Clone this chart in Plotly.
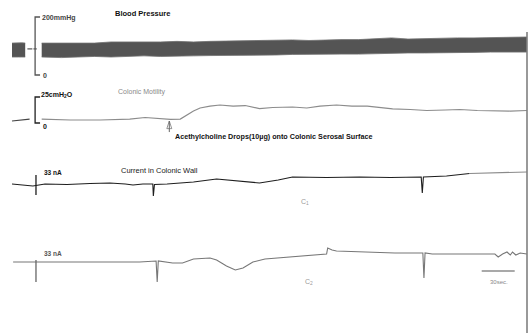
import plotly.graph_objects as go

W, H = 531, 333

# ---------------------------------------------------------------
# Recording data (time in seconds from the start of the strip)
# ---------------------------------------------------------------

# Blood pressure (mmHg): envelope of the pulsatile band
bp_pre_t = [0, 3, 6, 9, 12]
bp_pre_upper = [110, 111, 110, 111, 110]
bp_pre_lower = [62, 61, 62, 62, 62]

bp_t = [27, 45, 60, 75, 90, 105, 120, 135, 150, 165, 180, 195, 210, 225, 240,
        255, 270, 285, 300, 315, 330, 345, 360, 375, 390, 405, 420, 435, 450, 468]
bp_upper = [110, 110, 112, 110, 114, 114, 112, 114, 116, 114, 116, 117, 117, 117, 119,
            121, 119, 121, 122, 122, 124, 128, 124, 126, 126, 128, 128, 129, 129, 131]
bp_lower = [62, 60, 62, 64, 62, 64, 66, 64, 66, 66, 67, 67, 69, 69, 69,
            71, 72, 71, 72, 72, 74, 74, 76, 76, 76, 78, 78, 79, 79, 79]
bp_mean_marker = 90

# Colonic motility (cmH2O)
mot_pre_t = [0, 8, 16]
mot_pre = [1.9, 2.9, 3.8]
mot_t = [27, 53, 80, 107, 121, 135, 144, 153, 159, 165, 171, 180, 189, 201, 212,
         225, 237, 255, 268, 280, 295, 309, 323, 335, 346, 362, 377, 394, 407, 423,
         437, 453, 468]
mot = [3.8, 2.9, 2.9, 3.8, 5.3, 3.8, 3.4, 3.8, 7.7, 11.5, 14.4, 16.3, 17.3, 16.3, 16.8,
       13.9, 14.9, 15.4, 14.4, 16.3, 17.3, 16.3, 16.3, 14.9, 13.5, 13.0, 12.0, 12.5, 13.0, 12.0,
       11.5, 11.5, 12.0]

# Acetylcholine application time (s)
ach_t = 143

# Current in colonic wall, electrode C1 (nA, relative)
c1_t = [0, 9, 19, 30, 50, 71, 89, 103, 110, 119, 128, 128.5, 129.5, 141, 165,
        186, 207, 225, 242, 255, 286, 316, 344, 372, 373, 374, 395, 416, 444, 468]
c1 = [18.2, 16.5, 14.9, 18.2, 17.3, 19.0, 19.8, 18.2, 16.5, 18.2, 18.2, -1.7, 17.3, 18.2, 21.5,
      26.4, 23.1, 19.8, 24.8, 29.7, 28.9, 29.7, 28.9, 29.7, 3.3, 29.7, 31.4, 35.5, 36.3, 38.0]

# Current in colonic wall, electrode C2 (nA, relative)
c2_t = [1, 22, 62, 98, 116, 131, 132, 133, 146, 155, 165, 180, 186, 195, 203,
        210, 219, 230, 260, 286, 287, 291, 295, 321, 348, 373.5, 374.5, 375.5, 382, 412,
        439, 442, 446, 450, 453, 455, 458, 462, 468]
c2 = [30, 30, 30, 29.3, 30, 31.5, 0, 31.5, 28.5, 28.5, 34.5, 36, 33, 24, 18,
      21, 30, 34.5, 39, 42, 51, 48, 46.5, 45, 43.5, 43.5, 6, 43.5, 42, 42,
      42, 37.5, 42, 45, 40.5, 45, 40.5, 43.5, 42]

# Calibrations
bp_cal = [0, 200]        # mmHg
mot_cal = [0, 25]        # cmH2O
cur_cal = [0, 33]        # nA
time_bar = 30            # s

# ---------------------------------------------------------------
# Layout helpers
# ---------------------------------------------------------------
PX_PER_S = 1.1
T0_PX = 12
t_cal = 21.0             # time position of the calibration brackets
t_bar = 427.0            # start of the time scale bar
t_fade = 416             # the C1 pen runs lighter from here on


def y_axis(v_a, py_a, v_b, py_b, top_px, bot_px):
    """Axis in physical units: value v_a sits at pixel row py_a, v_b at py_b."""
    k = (py_a - py_b) / (v_b - v_a)
    hi = v_b + (py_b - top_px) / k
    lo = v_a - (bot_px - py_a) / k
    return dict(domain=[1 - bot_px / H, 1 - top_px / H], range=[lo, hi],
                visible=False, anchor="x", fixedrange=True)


def px(x):
    return x / W


def py(y):
    return 1 - y / H


FONT = "Liberation Sans, Arial, sans-serif"

fig = go.Figure()

# ---- Blood pressure band
for tt, up, lo in [(bp_pre_t, bp_pre_upper, bp_pre_lower), (bp_t, bp_upper, bp_lower)]:
    fig.add_trace(go.Scatter(x=tt, y=up, yaxis="y", mode="lines",
                             line=dict(color="#707070", width=0.8), hoverinfo="skip"))
    fig.add_trace(go.Scatter(x=tt, y=lo, yaxis="y", mode="lines", fill="tonexty",
                             fillcolor="#545454",
                             line=dict(color="#707070", width=0.8), hoverinfo="skip"))
fig.add_trace(go.Scatter(x=[14, 18.5], y=[bp_mean_marker] * 2, yaxis="y", mode="lines",
                         line=dict(color="#555", width=1.2)))
fig.add_trace(go.Scatter(x=[19.5, 22.5], y=[bp_mean_marker] * 2, yaxis="y", mode="lines",
                         line=dict(color="#555", width=1.2)))
fig.add_trace(go.Scatter(x=[t_cal + 4.5, t_cal, t_cal, t_cal + 4.5],
                         y=[bp_cal[1], bp_cal[1], bp_cal[0], bp_cal[0]], yaxis="y",
                         mode="lines", line=dict(color="#555", width=1.3)))

# ---- Colonic motility
fig.add_trace(go.Scatter(x=mot_pre_t, y=mot_pre, yaxis="y2", mode="lines",
                         line=dict(color="#444", width=1.2)))
fig.add_trace(go.Scatter(x=mot_t, y=mot, yaxis="y2", mode="lines",
                         line=dict(color="#8c8c8c", width=1.2)))
fig.add_trace(go.Scatter(x=[t_cal + 4.5, t_cal, t_cal, t_cal + 4.5],
                         y=[mot_cal[1], mot_cal[1], mot_cal[0], mot_cal[0]], yaxis="y2",
                         mode="lines", line=dict(color="#222", width=1.3)))

# arrow marking the acetylcholine application (pointing up to the trace)
fig.add_trace(go.Scatter(x=[ach_t, ach_t], y=[-8.7, 1.9], yaxis="y2", mode="lines+markers",
                         line=dict(color="#666", width=1),
                         marker=dict(symbol="arrow-open", angleref="previous", size=[0, 8],
                                     color="#666", line=dict(color="#666", width=1))))

# ---- Current C1
split = next(i for i, t in enumerate(c1_t) if t >= t_fade)
fig.add_trace(go.Scatter(x=c1_t[:split + 1], y=c1[:split + 1], yaxis="y3", mode="lines",
                         line=dict(color="#1e1e1e", width=1.1)))
fig.add_trace(go.Scatter(x=c1_t[split:], y=c1[split:], yaxis="y3", mode="lines",
                         line=dict(color="#8a8a8a", width=1.1)))
fig.add_trace(go.Scatter(x=[t_cal + 0.8] * 2, y=cur_cal, yaxis="y3", mode="lines",
                         line=dict(color="#1e1e1e", width=1.3)))

# ---- Current C2
fig.add_trace(go.Scatter(x=c2_t, y=c2, yaxis="y4", mode="lines",
                         line=dict(color="#777", width=1.1)))
fig.add_trace(go.Scatter(x=[t_cal + 0.8] * 2, y=cur_cal, yaxis="y4", mode="lines",
                         line=dict(color="#666", width=1.3)))

annotations = [
    dict(text="<b>Blood Pressure</b>", x=px(142), y=py(13), size=7.5, color="#111"),
    dict(text="<b>200mmHg</b>", x=px(40), y=py(18), size=7, color="#444", xanchor="left"),
    dict(text="<b>0</b>", x=px(41), y=py(76), size=7, color="#444", xanchor="left"),
    dict(text="Colonic Motility", x=px(142), y=py(92), size=7, color="#8a8a8a"),
    dict(text="<b>25cmH<sub>2</sub>O</b>", x=px(39), y=py(95), size=7, color="#111", xanchor="left"),
    dict(text="<b>0</b>", x=px(41), y=py(126), size=7, color="#111", xanchor="left"),
    dict(text="<b>Acethylcholine Drops(10µg) onto Colonic Serosal Surface</b>",
         x=px(173), y=py(137), size=7.2, color="#111", xanchor="left"),
    dict(text="Current in Colonic Wall", x=px(159), y=py(170), size=7.5, color="#1a1a1a"),
    dict(text="<b>33 nA</b>", x=px(42), y=py(173), size=6.5, color="#111", xanchor="left"),
    dict(text="C<sub>1</sub>", x=px(305), y=py(202), size=7, color="#999"),
    dict(text="<b>33 nA</b>", x=px(42), y=py(253), size=6.5, color="#555", xanchor="left"),
    dict(text="C<sub>2</sub>", x=px(309), y=py(282), size=7, color="#999"),
    dict(text="30sec.", x=px(499), y=py(282), size=6, color="#888"),
]
ann = []
for a in annotations:
    ann.append(dict(text=a["text"], x=a["x"], y=a["y"], xref="paper", yref="paper",
                    showarrow=False, xanchor=a.get("xanchor", "center"), yanchor="middle",
                    font=dict(family=FONT, size=a["size"], color=a["color"])))

shapes = [
    # 30 s time bar
    dict(type="line", xref="x", yref="paper", x0=t_bar, x1=t_bar + time_bar,
         y0=py(271), y1=py(271), line=dict(color="#555", width=1.2)),
    # right edge of the chart strip
    dict(type="line", xref="paper", yref="paper", x0=px(527), x1=px(527),
         y0=py(32), y1=py(333), line=dict(color="#777", width=1.5)),
]

fig.update_layout(
    width=W, height=H,
    margin=dict(l=0, r=0, t=0, b=0),
    paper_bgcolor="white", plot_bgcolor="white",
    showlegend=False,
    xaxis=dict(range=[(0 - T0_PX) / PX_PER_S, (W - T0_PX) / PX_PER_S],
               domain=[0, 1], visible=False, fixedrange=True),
    yaxis=y_axis(bp_cal[0], 75, bp_cal[1], 17, 0, 88),
    yaxis2=y_axis(mot_cal[0], 123, mot_cal[1], 97, 88, 148),
    yaxis3=y_axis(cur_cal[0], 195, cur_cal[1], 175, 148, 228),
    yaxis4=y_axis(cur_cal[0], 282, cur_cal[1], 260, 228, 333),
    annotations=ann,
    shapes=shapes,
)

fig.write_html("out.html")
